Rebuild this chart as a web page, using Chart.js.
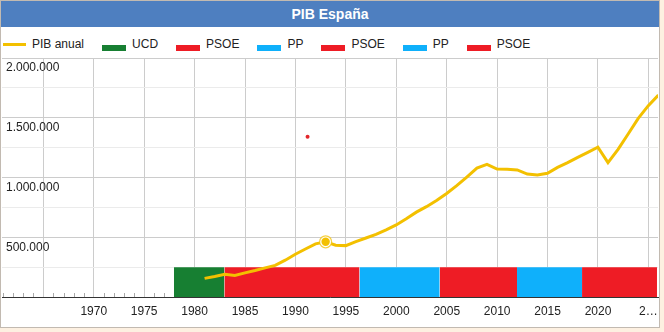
<!DOCTYPE html>
<html>
<head>
<meta charset="utf-8">
<script src="https://cdn.jsdelivr.net/npm/chart.js@4.4.1/dist/chart.umd.min.js"></script>
<style>
    body { margin: 0; background: #fdf0e1; font-family: Arial, "Liberation Sans", sans-serif; }
    #box { position: absolute; left: 0; top: 0; width: 658px; height: 326px; border: 1px solid #c2bab1; background: #fff; }
    #title { height: 26px; line-height: 26px; background: #4e7fc0; color: #fff; font-weight: bold; font-size: 14px; text-align: center; }
    #legend { position: absolute; left: 2px; top: 34px; height: 18px; display: flex; align-items: center; font-size: 12px; color: #222; white-space: nowrap; }
    .item { display: flex; align-items: center; margin-right: 18px; }
    .swatch { margin-right: 6px; }
    .swatch.line { width: 23px; height: 3px; }
    .swatch.box { width: 24px; height: 6px; position: relative; top: 4px; }
    canvas { position: absolute; left: 0; top: 26px; }
</style>
</head>
<body>
<div id="box">
    <div id="title">PIB España</div>
    <div id="legend"></div>
    <canvas id="pib" width="658" height="300"></canvas>
</div>
<script>
    // PIB anual (millones de euros), un valor por año
    const years = [1980, 1981, 1982, 1983, 1984, 1985, 1986, 1987, 1988, 1989,
        1990, 1991, 1992, 1993, 1994, 1995, 1996, 1997, 1998, 1999,
        2000, 2001, 2002, 2003, 2004, 2005, 2006, 2007, 2008, 2009,
        2010, 2011, 2012, 2013, 2014, 2015, 2016, 2017, 2018, 2019,
        2020, 2021, 2022, 2023, 2024, 2025];
    const pib = [156000, 172000, 190000, 180000, 202000, 222000, 244000, 264000, 308000, 358000,
        402000, 445000, 462000, 433000, 430000, 464000, 494000, 524000, 561000, 603000,
        654000, 710000, 756000, 808000, 866000, 932000, 1004000, 1079000, 1110000, 1071000,
        1070000, 1063000, 1029000, 1021000, 1035000, 1085000, 1124000, 1169000, 1211000, 1253000,
        1124000, 1236000, 1364000, 1495000, 1601000, 1690000];

    // gobiernos
    const parties = ['UCD', 'PSOE', 'PP', 'PSOE', 'PP', 'PSOE'];
    const partyStart = [1977.95, 1982.95, 1996.35, 2004.3, 2011.97, 2018.42];
    const partyEnd = [1982.95, 1996.35, 2004.3, 2011.97, 2018.42, 2025.85];
    const partyColors = ['#177f32', '#ee1c25', '#0fb0fb', '#ee1c25', '#0fb0fb', '#ee1c25'];
    const barTop = 250000;

    const focusYear = 1992;
    const dotX = [1991.2];
    const dotY = [1340000];

    const xMin = 1960.9;
    const xMax = 2025.95;
    const xTicks = [];
    for (let y = 1961; y <= 2025; y++) xTicks.push(y);
    const lastLabel = '2…';

    const END_OF_YEAR = 0.99; // dato a 31/12
    const YELLOW = '#f3c000';
    const FONT = { family: 'Arial, "Liberation Sans", sans-serif', size: 12 };

    const fmt = v => v.toString().replace(/\B(?=(\d{3})+(?!\d))/g, '.');

    const pibPoints = years.map((y, i) => ({ x: y + END_OF_YEAR, y: pib[i] }));
    const focusPoint = [pibPoints[years.indexOf(focusYear)]];

    const minorTicks = {
        id: 'minorTicks',
        beforeDatasetsDraw(chart) {
            const { ctx, chartArea, scales: { x } } = chart;
            ctx.save();
            ctx.strokeStyle = '#aaaaaa';
            ctx.lineWidth = 1;
            ctx.beginPath();
            x.ticks.forEach(t => {
                if (t.value % 5 === 0) return;
                const px = Math.round(x.getPixelForValue(t.value)) + 0.5;
                ctx.moveTo(px, chartArea.bottom - 4);
                ctx.lineTo(px, chartArea.bottom);
            });
            ctx.stroke();
            ctx.restore();
        }
    };

    const datasets = [
        {
            label: '', data: focusPoint, showLine: false,
            pointRadius: 4.2, pointBackgroundColor: YELLOW, pointBorderWidth: 0
        },
        {
            label: '', data: focusPoint, showLine: false,
            pointRadius: 6, pointBackgroundColor: '#ffffff',
            pointBorderColor: 'rgba(243,192,0,0.75)', pointBorderWidth: 1.2
        },
        {
            label: 'PIB anual', data: pibPoints, fill: false,
            borderColor: YELLOW, backgroundColor: YELLOW, borderWidth: 3,
            pointRadius: 0, tension: 0
        }
    ];

    parties.forEach((p, i) => {
        datasets.push({
            label: p,
            data: [{ x: partyStart[i], y: barTop }, { x: partyEnd[i], y: barTop }],
            fill: 'origin',
            backgroundColor: partyColors[i],
            borderColor: partyColors[i],
            borderWidth: 0,
            pointRadius: 0
        });
    });

    datasets.push({
        label: '', data: dotX.map((x, i) => ({ x: x, y: dotY[i] })), showLine: false,
        pointRadius: 2, pointBackgroundColor: '#e3262b', pointBorderWidth: 0
    });

    const chart = new Chart(document.getElementById('pib'), {
        type: 'line',
        data: { datasets: datasets },
        plugins: [minorTicks],
        options: {
            responsive: false,
            animation: false,
            layout: { autoPadding: false, padding: { top: 31, left: 1, right: 1, bottom: 0 } },
            plugins: {
                legend: { display: false },
                title: { display: false },
                tooltip: { enabled: false }
            },
            scales: {
                x: {
                    type: 'linear',
                    min: xMin,
                    max: xMax,
                    afterBuildTicks: axis => { axis.ticks = xTicks.map(v => ({ value: v })); },
                    afterFit: axis => { axis.paddingLeft = 0; axis.paddingRight = 0; axis.height = 30; },
                    grid: {
                        drawTicks: false,
                        color: ctx => (ctx.tick && ctx.tick.value % 5 === 0) ? '#cccccc' : 'rgba(0,0,0,0)'
                    },
                    border: { color: '#333333', width: 1 },
                    ticks: {
                        autoSkip: false,
                        maxRotation: 0,
                        padding: 7,
                        color: '#222222',
                        font: FONT,
                        callback: v => {
                            if (v % 5 !== 0 || v < 1970) return '';
                            if (v === xTicks[xTicks.length - 1]) return lastLabel;
                            return String(v);
                        }
                    }
                },
                y: {
                    min: 0,
                    max: 2000000,
                    afterFit: axis => { axis.width = 0; axis.paddingTop = 0; axis.paddingBottom = 0; },
                    grid: {
                        drawTicks: false,
                        color: ctx => (ctx.tick && ctx.tick.value % 500000 === 0) ? '#cccccc' : '#ebebeb'
                    },
                    border: { display: false },
                    ticks: {
                        stepSize: 250000,
                        mirror: true,
                        padding: 4,
                        labelOffset: 10,
                        color: '#222222',
                        font: FONT,
                        callback: v => (v > 0 && v % 500000 === 0) ? fmt(v) : ''
                    }
                }
            }
        }
    });

    // leyenda html
    const legendEl = document.getElementById('legend');
    chart.data.datasets.filter(ds => ds.label).forEach(ds => {
        const item = document.createElement('span');
        item.className = 'item';
        const sw = document.createElement('span');
        sw.className = 'swatch ' + (ds.fill ? 'box' : 'line');
        sw.style.background = ds.backgroundColor;
        const tx = document.createElement('span');
        tx.textContent = ds.label;
        item.append(sw, tx);
        legendEl.append(item);
    });
</script>
</body>
</html>
